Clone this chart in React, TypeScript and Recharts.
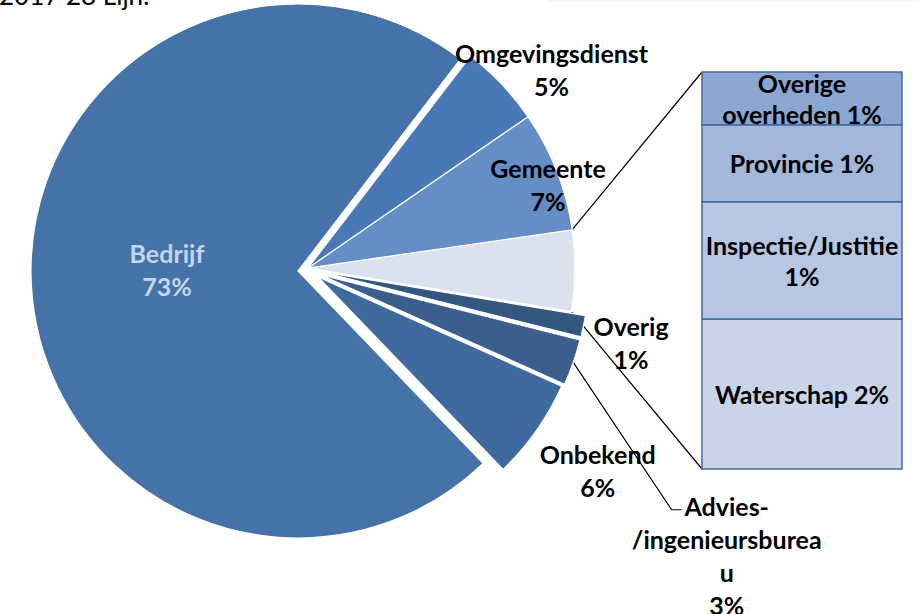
import React from "react";
import { PieChart, Pie, Cell, BarChart, Bar, XAxis, YAxis, LabelList } from "recharts";

// ---------- data ----------
const sliceNames = [
  "Overige",
  "Gemeente",
  "Omgevingsdienst",
  "Bedrijf",
  "Onbekend",
  "Advies-\n/ingenieursburea\nu",
  "Overig",
];
const sliceValues = [4.9, 7.3, 5.0, 72.6, 6.1, 2.8, 1.3];

const barNames = ["Waterschap", "Inspectie/Justitie\n", "Provincie", "Overige\noverheden"];
const barValues = [1.85, 1.45, 0.95, 0.65];

const titleText = "2017 28 Lijn.";

// ---------- style / layout ----------
const sliceColors = ["#dbe2ef", "#668ec6", "#4878b5", "#4673a7", "#3e6a9e", "#3a5f8d", "#34577f"];
const barColors = ["#c9d4e8", "#b7c6e2", "#a2b7da", "#8ba6d0"];
const labelColors = ["#000", "#000", "#000", "#c5d5ee", "#000", "#000", "#000"];

const W = 919;
const H = 614;
const CX = 308;
const CY = 268;
const R = 267;
const START = -9.4;
// explosion offsets per slice (dx, dy)
const explode: [number, number][] = [
  [0, 0],
  [0, 0],
  [0, 0],
  [-10, 3],
  [10, 9],
  [13, 7],
  [14, 4],
];
// label placement (radius from slice center, angle shift from mid angle)
const labelCfg: ({ r: number; da: number } | null)[] = [
  null,
  { r: 254, da: -2.3 },
  { r: 314, da: -4.4 },
  { r: 131, da: -3.8 },
  { r: 340, da: 0.5 },
  { r: 493, da: -15.5 },
  { r: 317, da: -1.1 },
];
const FONT = "Lato, 'Open Sans', sans-serif";
const FS = 25;
const LH = 33;
const BAR_LH = 31;
const BAR_X = 702;
const BAR_Y = 72;
const BAR_W = 200;
const BAR_H = 397;

// ---------- helpers ----------
const total = sliceValues.reduce((a, b) => a + b, 0);
const angles = (() => {
  let acc = START;
  return sliceValues.map((v) => {
    const s = acc;
    acc += (v / total) * 360;
    return [s, acc];
  });
})();
const centerOf = (i: number) => [CX + explode[i][0], CY + explode[i][1]];
const polar = (cx: number, cy: number, r: number, deg: number) => [
  cx + r * Math.cos((deg * Math.PI) / 180),
  cy - r * Math.sin((deg * Math.PI) / 180),
];

const pieData = sliceNames.map((n, i) => ({ name: n, value: sliceValues[i] }));
const groups = [[0, 1, 2], [3], [4], [5], [6]];

const makeLabel = (group: number[]) => (props: any) => {
  const { cx, cy, midAngle, index, percent } = props;
  const cfg = labelCfg[index];
  if (!group.includes(index) || !cfg) return <g />;
  const [x, y] = polar(cx, cy, cfg.r, midAngle + cfg.da);
  const lines = [...sliceNames[index].split("\n"), `${Math.round(percent * 100)}%`];
  return (
    <text
      key={`lbl-${index}`}
      textAnchor="middle"
      dominantBaseline="central"
      fontFamily={FONT}
      fontWeight={700}
      fontSize={FS}
      fill={labelColors[index]}
    >
      {lines.map((l, k) => (
        <tspan key={k} x={x} y={y + (k - (lines.length - 1) / 2) * LH}>
          {l}
        </tspan>
      ))}
    </text>
  );
};

const barRow: Record<string, any> = { cat: "Overige" };
barValues.forEach((v, i) => (barRow[`s${i}`] = v));
const barData = [barRow];
const barTotal = barValues.reduce((a, b) => a + b, 0);

const makeBarLabel = (i: number) => (props: any) => {
  const { x, y, width, height } = props;
  const pct = Math.round(barValues[i]);
  const lines = `${barNames[i]} ${pct}%`.split("\n").map((s) => s.trim());
  const cx = x + width / 2;
  const cy = y + height / 2;
  return (
    <text textAnchor="middle" dominantBaseline="central" fontFamily={FONT} fontWeight={700} fontSize={FS} fill="#000">
      {lines.map((l, k) => (
        <tspan key={k} x={cx} y={cy + (k - (lines.length - 1) / 2) * BAR_LH}>
          {l}
        </tspan>
      ))}
    </text>
  );
};

export default function App() {
  // connectors
  const [lcx, lcy] = centerOf(0);
  const topP = polar(lcx, lcy, R, angles[0][1]);
  const botP = polar(lcx, lcy, R, angles[0][0]);
  const [acx, acy] = centerOf(5);
  const aMid = (angles[5][0] + angles[5][1]) / 2;
  const aStart = polar(acx, acy, R, aMid);
  const aElbow = polar(acx, acy, 422, -33.8);

  return (
    <div style={{ position: "absolute", left: 0, top: 0, width: W, height: H, background: "#fff" }}>
      <svg width={W} height={H} style={{ position: "absolute", left: 0, top: 0 }}>
        <rect x={549} y={0} width={370} height={2} fill="#f4f4f4" />
        <text x={-1} y={5} fontFamily={FONT} fontSize={26} fill="#000">
          {titleText}
        </text>
        <line x1={topP[0]} y1={topP[1]} x2={BAR_X} y2={BAR_Y} stroke="#000" strokeWidth={1.2} />
        <line x1={botP[0]} y1={botP[1]} x2={BAR_X} y2={BAR_Y + BAR_H} stroke="#000" strokeWidth={1.2} />
        <polyline
          points={`${aStart[0]},${aStart[1]} ${aElbow[0]},${aElbow[1]} ${aElbow[0] + 10},${aElbow[1]}`}
          fill="none"
          stroke="#000"
          strokeWidth={1.2}
        />
      </svg>
      <div style={{ position: "absolute", left: 0, top: 0 }}>
        <PieChart width={W} height={H} margin={{ top: 0, right: 0, bottom: 0, left: 0 }}>
          {groups.map((g, gi) => {
            const [cx, cy] = centerOf(g[0]);
            return (
              <Pie
                key={gi}
                data={pieData}
                dataKey="value"
                nameKey="name"
                cx={cx}
                cy={cy}
                outerRadius={R}
                innerRadius={0}
                startAngle={START}
                endAngle={START + 360}
                isAnimationActive={false}
                label={makeLabel(g)}
                labelLine={false}
              >
                {pieData.map((d, i) =>
                  g.includes(i) ? (
                    <Cell key={i} fill={sliceColors[i]} stroke="#ffffff" strokeWidth={1.2} />
                  ) : (
                    <Cell key={i} fill="none" stroke="none" />
                  )
                )}
              </Pie>
            );
          })}
        </PieChart>
      </div>
      <div style={{ position: "absolute", left: BAR_X - 2, top: BAR_Y - 2 }}>
        <BarChart
          width={BAR_W + 4}
          height={BAR_H + 4}
          data={barData}
          margin={{ top: 2, right: 2, bottom: 2, left: 2 }}
          barCategoryGap={0}
        >
          <XAxis dataKey="cat" hide />
          <YAxis hide domain={[0, barTotal]} />
          {barValues.map((_, i) => (
            <Bar
              key={i}
              dataKey={`s${i}`}
              stackId="a"
              fill={barColors[i]}
              stroke="#456a9e"
              strokeWidth={1.5}
              isAnimationActive={false}
            >
              <LabelList content={makeBarLabel(i)} />
            </Bar>
          ))}
        </BarChart>
      </div>
    </div>
  );
}
